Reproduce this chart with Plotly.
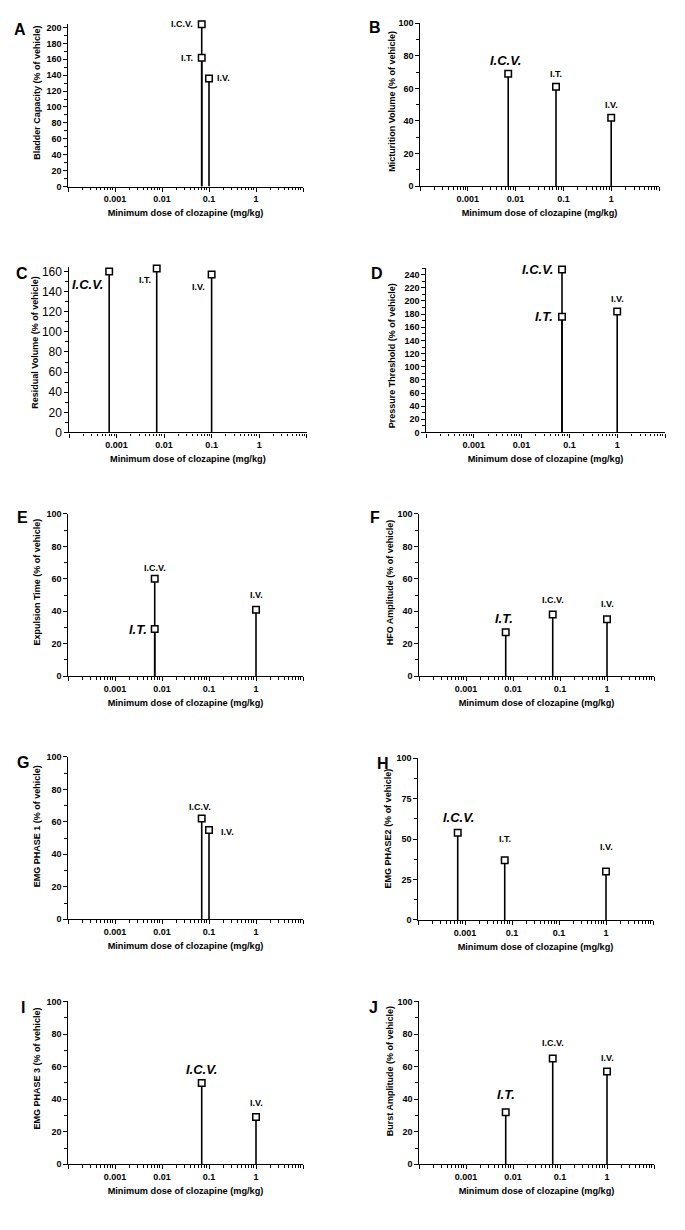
import plotly.graph_objects as go
import math

W, H = 685, 1230

# ---------------- data ----------------
panel_letters = ["A", "B", "C", "D", "E", "F", "G", "H", "I", "J"]
y_titles = [
    "Bladder Capacity (% of vehicle)",
    "Micturition Volume (% of vehicle)",
    "Residual Volume (% of vehicle)",
    "Pressure Threshold (% of vehicle)",
    "Expulsion Time (% of vehicle)",
    "HFO Amplitude (% of vehicle)",
    "EMG PHASE 1 (% of vehicle)",
    "EMG PHASE2 (% of vehicle)",
    "EMG PHASE 3 (% of vehicle)",
    "Burst Amplitude (% of vehicle)",
]
x_title = "Minimum dose of clozapine (mg/kg)"
x_tickvals = [0.0001, 0.001, 0.01, 0.1, 1, 10]
x_ticktext = ["", "0.001", "0.01", "0.1", "1", ""]
x_ticktext_H = ["", "0.001", "0.1", "0.1", "1", ""]

A_routes = ["I.C.V.", "I.T.", "I.V."]
A_doses = [0.07, 0.07, 0.1]
A_values = [204, 162, 136]

B_routes = ["I.C.V.", "I.T.", "I.V."]
B_doses = [0.007, 0.07, 1]
B_values = [69, 61, 42]

C_routes = ["I.C.V.", "I.T.", "I.V."]
C_doses = [0.0007, 0.007, 0.1]
C_values = [160, 163, 157]

D_routes = ["I.C.V.", "I.T.", "I.V."]
D_doses = [0.07, 0.07, 1]
D_values = [248, 176, 184]

E_routes = ["I.C.V.", "I.T.", "I.V."]
E_doses = [0.007, 0.007, 1]
E_values = [60, 29, 41]

F_routes = ["I.T.", "I.C.V.", "I.V."]
F_doses = [0.007, 0.07, 1]
F_values = [27, 38, 35]

G_routes = ["I.C.V.", "I.V."]
G_doses = [0.07, 0.1]
G_values = [62, 55]

H_routes = ["I.C.V.", "I.T.", "I.V."]
H_doses = [0.0007, 0.007, 1]
H_values = [54, 37, 30]

I_routes = ["I.C.V.", "I.V."]
I_doses = [0.07, 1]
I_values = [50, 29]

J_routes = ["I.T.", "I.C.V.", "I.V."]
J_doses = [0.007, 0.07, 1]
J_values = [32, 65, 57]

panel_routes = [A_routes, B_routes, C_routes, D_routes, E_routes,
                F_routes, G_routes, H_routes, I_routes, J_routes]
panel_doses = [A_doses, B_doses, C_doses, D_doses, E_doses,
               F_doses, G_doses, H_doses, I_doses, J_doses]
panel_values = [A_values, B_values, C_values, D_values, E_values,
                F_values, G_values, H_values, I_values, J_values]

# ---------------- layout / style (pixels) ----------------
# plot box: x0, x1, y_top(px), y_bottom(px), y range max, major dtick, minor dtick
BOX = [
    (68, 303, 18.7, 183.3, 205, 20, 10),
    (420, 659, 18.3, 183.0, 100, 20, 10),
    (69, 306.7, 265.0, 431.7, 164, 20, 10),
    (426, 665, 265.7, 431.7, 250, 20, 10),
    (68, 303, 514.0, 677.7, 100, 20, 10),
    (419, 654, 514.0, 677.7, 100, 20, 10),
    (68, 303, 759.3, 923.3, 100, 20, 10),
    (418, 653, 760.7, 924.0, 100, 25, 12.5),
    (68, 303, 1006.3, 1170.7, 100, 20, 10),
    (419, 654, 1006.3, 1170.7, 100, 20, 10),
]
LETTER_POS = [(20, 25), (375, 23), (22, 271), (377, 271), (22, 518),
              (375, 518), (22.5, 765), (383, 766), (23, 1012), (374, 1012)]
YTITLE_POS = [(37, 88.5), (391.7, 97), (35, 341), (391.7, 354), (37.3, 583),
              (390, 583), (37.3, 829), (388, 831.5), (37, 1074), (390, 1076.7)]
# label style per point: (placement, big?, dx, dy)
LBL = [
    [("left", False, -7, 0), ("left", False, -7, 0), ("right", False, 6, 0)],
    [("above", True, -3, 13), ("above", False, 0, 13), ("above", False, 0, 13)],
    [("left", True, -4, -13), ("left", False, -4, -12), ("left", False, -5, -13)],
    [("left", True, -7, 0), ("left", True, -7, 0), ("above", False, 0, 13)],
    [("above", False, 0, 11), ("left", True, -6, 0), ("above", False, 0, 15)],
    [("above", True, -2, 14), ("above", False, 0, 14), ("above", False, 0, 15)],
    [("above", False, -2, 12), ("right", False, 10, -2)],
    [("above", True, 1, 15), ("above", False, 0, 21), ("above", False, 0, 24)],
    [("above", True, 0, 13), ("above", False, 0, 14)],
    [("above", True, 0, 18), ("above", False, 0, 15), ("above", False, 0, 13)],
]

FAM = "Liberation Sans, Arial, sans-serif"
small_font = dict(family=FAM, size=9, color="black", weight="bold")
big_font = dict(family=FAM, size=13, color="black", weight="bold", style="italic")
tick_font = dict(family=FAM, size=9, color="black", weight="bold")
tick_font_C = dict(family=FAM, size=12, color="black")
title_font = dict(family=FAM, size=9.2, color="black", weight="bold")
ytitle_font = dict(family=FAM, size=9, color="black", weight="bold")

fig = go.Figure()
layout = dict(
    width=W, height=H,
    margin=dict(l=0, r=0, t=0, b=0),
    paper_bgcolor="white", plot_bgcolor="white",
    showlegend=False,
)
annotations = []

for i in range(10):
    n = i + 1
    xa = "x" if n == 1 else f"x{n}"
    ya = "y" if n == 1 else f"y{n}"
    x0, x1, yt, yb, ymax, dt, mdt = BOX[i]
    doses = panel_doses[i]
    vals = panel_values[i]
    routes = panel_routes[i]

    sx, sy = [], []
    for d, v in zip(doses, vals):
        sx += [d, d, None]
        sy += [0, v, None]
    fig.add_trace(go.Scatter(x=sx, y=sy, mode="lines", xaxis=xa, yaxis=ya,
                             line=dict(color="black", width=1.6),
                             cliponaxis=False, hoverinfo="skip"))
    fig.add_trace(go.Scatter(x=doses, y=vals, mode="markers", xaxis=xa, yaxis=ya,
                             marker=dict(symbol="square", size=6.5, color="white",
                                         line=dict(color="black", width=1.5)),
                             cliponaxis=False,
                             text=routes, hoverinfo="text+y"))

    layout["xaxis" if n == 1 else f"xaxis{n}"] = dict(
        domain=[x0 / W, x1 / W], anchor=ya, type="log", range=[-4, 1],
        tickmode="array", tickvals=x_tickvals,
        ticktext=x_ticktext_H if i == 7 else x_ticktext,
        ticks="outside", ticklen=4, tickwidth=1.2, tickcolor="black",
        showline=True, linecolor="black", linewidth=1.3,
        showgrid=False, zeroline=False, tickfont=tick_font,
        minor=dict(ticks="outside", ticklen=2.5, tickwidth=1, tickcolor="black",
                   dtick="D1", showgrid=False),
        title=dict(text=x_title, font=title_font, standoff=6),
        fixedrange=True,
    )
    layout["yaxis" if n == 1 else f"yaxis{n}"] = dict(
        domain=[1 - yb / H, 1 - yt / H], anchor=xa, range=[0, ymax],
        tick0=0, dtick=dt,
        ticks="outside", ticklen=3.5, tickwidth=1.2, tickcolor="black",
        showline=True, linecolor="black", linewidth=1.3,
        showgrid=False, zeroline=False,
        tickfont=tick_font_C if i == 2 else tick_font,
        minor=dict(ticks="outside", ticklen=2.5, tickwidth=1, tickcolor="black",
                   dtick=mdt, tick0=0, showgrid=False),
        fixedrange=True,
    )

    # y-axis title
    tx, ty = YTITLE_POS[i]
    annotations.append(dict(
        x=tx / W, y=1 - ty / H, xref="paper", yref="paper", text=y_titles[i],
        textangle=-90, showarrow=False, xanchor="center", yanchor="middle",
        font=ytitle_font,
    ))

    for (d, v, r, st) in zip(doses, vals, routes, LBL[i]):
        place, big, dx, dy = st
        xanchor = {"left": "right", "right": "left", "above": "center"}[place]
        annotations.append(dict(
            x=math.log10(d), y=v, xref=xa, yref=ya, text=r, showarrow=False,
            xanchor=xanchor, yanchor="middle", xshift=dx, yshift=dy,
            font=big_font if big else small_font,
        ))

    lx, ly = LETTER_POS[i]
    annotations.append(dict(
        x=lx / W, y=1 - ly / H, xref="paper", yref="paper",
        text=panel_letters[i], showarrow=False, xanchor="center", yanchor="middle",
        font=dict(family=FAM, size=16, color="black", weight="bold"),
    ))

layout["annotations"] = annotations
fig.update_layout(**layout)
fig.write_html("out.html", config={"displayModeBar": False},
               post_script="document.body.style.margin='0';document.body.style.overflow='hidden';")
